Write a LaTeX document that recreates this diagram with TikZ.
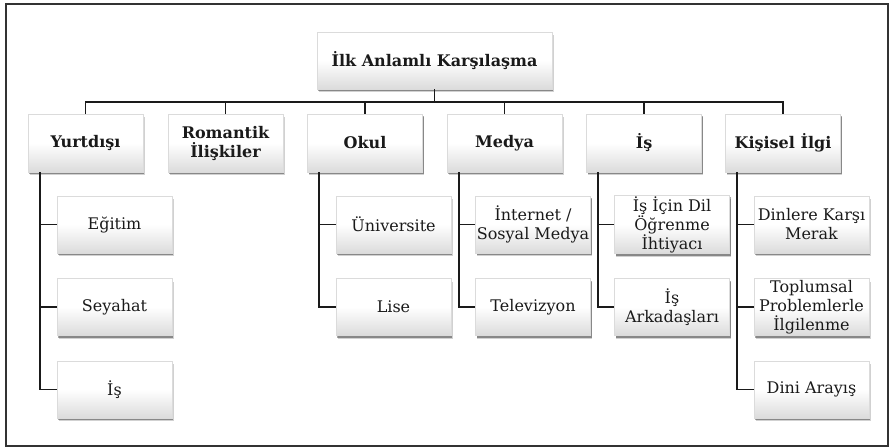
\documentclass[tikz,border=0pt]{standalone}
\usepackage{fontspec}
\setmainfont{DejaVu Serif}
\usetikzlibrary{shadows}
\definecolor{ink}{HTML}{1A1A1A}
\tikzset{
  box/.style={minimum width=115pt, minimum height=57pt, inner sep=1pt, align=center,
    top color=white, bottom color=black!14, middle color=white, draw=black!14, line width=0.4pt,
    text=ink, font=\fontsize{16}{19}\selectfont,
    drop shadow={shadow xshift=1.6pt, shadow yshift=-3.2pt, opacity=0.18, fill=black},
    drop shadow={shadow xshift=1.0pt, shadow yshift=-2.0pt, opacity=0.35, fill=black}},
  headbox/.style={box, font=\bfseries\fontsize{16}{19}\selectfont},
  link/.style={draw=ink, line width=1.8pt},
}
\begin{document}
\begin{tikzpicture}[x=1pt,y=-1pt]
\useasboundingbox (0,0) rectangle (891,447);
\draw[line width=1.2pt, draw=black!80] (6,4) rectangle (888,446);

\node[headbox, minimum width=235pt] (root) at (434.5,60.5) {İlk Anlamlı Karşılaşma};
\coordinate (bar) at (434.5,102);

\node[headbox, minimum height=58pt] (a) at (85.5,143) {Yurtdışı};
\node[headbox, minimum height=58pt] (b) at (225.5,143) {Romantik\\İlişkiler};
\node[headbox, minimum height=58pt] (c) at (365,143) {Okul};
\node[headbox, minimum height=58pt] (d) at (504.5,143) {Medya};
\node[headbox, minimum height=58pt] (e) at (644,143) {İş};
\node[headbox, minimum height=58pt] (f) at (783,143) {Kişisel İlgi};

\node[box] (a1) at (114.5,224.5) {Eğitim};
\node[box] (a2) at (114.5,307) {Seyahat};
\node[box] (a3) at (114.5,389.5) {İş};

\node[box] (c1) at (393.5,224.5) {Üniversite};
\node[box] (c2) at (393.5,307) {Lise};

\node[box] (d1) at (533,224.5) {İnternet /\\Sosyal Medya};
\node[box] (d2) at (533,307) {Televizyon};

\node[box] (e1) at (672,224.5) {İş İçin Dil\\Öğrenme\\İhtiyacı};
\node[box] (e2) at (672,307) {İş\\Arkadaşları};

\node[box] (f1) at (811.5,224.5) {Dinlere Karşı\\Merak};
\node[box] (f2) at (811.5,307) {Toplumsal\\Problemlerle\\İlgilenme};
\node[box] (f3) at (811.5,389.5) {Dini Arayış};

\draw[link] (root.south) -- (bar);
\foreach \n in {a,b,c,d,e,f} { \draw[link] (\n.north) |- (bar); }

\foreach \p/\ch in {a/a1,a/a2,a/a3,c/c1,c/c2,d/d1,d/d2,e/e1,e/e2,f/f1,f/f2,f/f3} {
  \draw[link] ([xshift=12pt]\p.south west) |- (\ch.west);
}
\end{tikzpicture}
\end{document}
